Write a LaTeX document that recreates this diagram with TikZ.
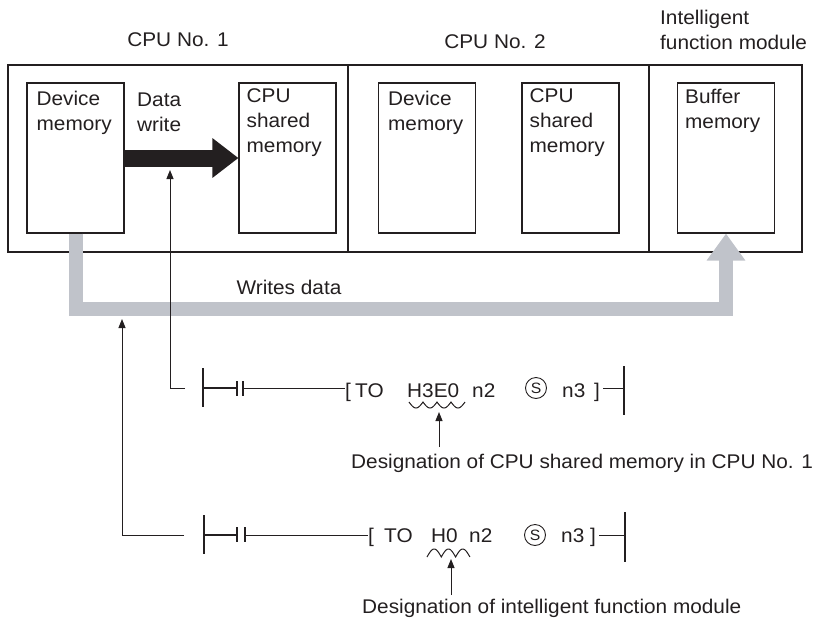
\documentclass[tikz,border=0pt]{standalone}
\usepackage{fontspec}
\setmainfont{Liberation Sans}[FakeStretch=1.05]
\usepackage{tikz}
\usetikzlibrary{arrows.meta}
\usetikzlibrary{positioning}
\definecolor{pipegray}{RGB}{192,195,202}
\definecolor{inkgray}{RGB}{35,31,32}

\begin{document}
\begin{tikzpicture}[
		x=1pt, y=-1pt,
		every node/.style={inner sep=0pt, text=inkgray, font=\fontsize{19.8}{25}\selectfont},
		panel/.style={draw=inkgray, line width=2.5pt, minimum height=187pt},
		membox/.style={draw=inkgray, line width=1.1pt, minimum width=97pt, minimum height=150pt},
		boxtext/.style={anchor=north west, align=left},
		bigarrow/.style={inkgray, line width=17pt, -{Triangle[length=26pt,width=38pt]}},
		pipe/.style={pipegray, line width=14pt, -{Triangle[length=27pt,width=37pt]}},
		thinarrow/.style={inkgray, line width=1pt, -{Triangle[length=9pt,width=7pt]}},
		rail/.style={inkgray, line width=2.5pt},
		wire/.style={inkgray, line width=1pt},
		sbox/.style={circle, draw=inkgray, line width=0.9pt, minimum size=21pt, font=\fontsize{15}{15}\selectfont}
		]
		
		\useasboundingbox (0,0) rectangle (820,619);
		
		% Rung heights
		\def\ra{388}
		\def\rb{535}
		
		% Modules
		\node[panel, minimum width=340pt] (cpu1) at (178,158.5) {};
		\node[panel, minimum width=301pt] (cpu2) at (498.5,158.5) {};
		\node[panel, minimum width=153pt] (ifm)  at (725.5,158.5) {};
		
		\node[anchor=base] (t1) at (178,46) {CPU No. 1};
		\node[anchor=base] (t2) at (495,48) {CPU No. 2};
		\node[boxtext]     (t3) at (660,10) {Intelligent\\function module};
		
		% Memories
		\node[membox] (dm1)  at (75.5,158) {};
		\node[membox] (csm1) at (287.5,158) {};
		\node[membox] (dm2)  at (427,158) {};
		\node[membox] (csm2) at (570.5,158) {};
		\node[membox] (buf)  at (726,158) {};
		
		\node[boxtext] at ([shift={(10,8)}]dm1.north west)  {Device\\memory};
		\node[boxtext] at ([shift={(8,6)}]csm1.north west)  {CPU\\shared\\memory};
		\node[boxtext] at ([shift={(10,8)}]dm2.north west)  {Device\\memory};
		\node[boxtext] at ([shift={(8,6)}]csm2.north west)  {CPU\\shared\\memory};
		\node[boxtext] at ([shift={(8,7)}]buf.north west)   {Buffer\\memory};
		\node[boxtext] (dw) at (137,93) {Data\\write};
		
		% Data transfers
		\draw[bigarrow] (dm1.east) -- (csm1.west);
		\draw[pipe] (dm1.south) -- ++(0,75) -| (buf.south);
		\node[anchor=base] (wd) at (289,294) {Writes data};
		
		% Ladder, first rung
		\coordinate (lr1) at (203,\ra);
		\coordinate (rr1) at (624,\ra);
		\draw[rail] (lr1) ++(0,-20) -- ++(0,39);
		\draw[rail] (lr1) -- ++(34,0);
		\draw[rail] (237,\ra-7) -- (237,\ra+8);
		\draw[rail] (243,\ra-7) -- (243,\ra+8);
		\draw[rail] (rr1) ++(0,-22) -- ++(0,49);
		
		\node[anchor=base west] (ob1)  at (345,\ra+9) {[};
		\node[anchor=base west] (to1)  at (355,\ra+9) {TO};
		\node[anchor=base west] (h3e0) at (407,\ra+9) {H3E0};
		\node[anchor=base west] (n2a)  at (472,\ra+9) {n2};
		\node[sbox]             (s1)   at (536,\ra) {S};
		\node[anchor=base west] (n3a)  at (562,\ra+9) {n3};
		\node[anchor=base west] (cb1)  at (594,\ra+9) {]};
		\draw[wire] (243,\ra) -- (ob1.west |- lr1);
		\draw[wire] ([xshift=3pt]cb1.east |- rr1) -- (rr1);
		\draw[wire] plot[domain=0:4, samples=81] ({409+14*\x}, {402+6*abs(sin(180*\x))});
		
		% Ladder, second rung
		\coordinate (lr2) at (204,\rb);
		\coordinate (rr2) at (625,\rb);
		\draw[rail] (lr2) ++(0,-20) -- ++(0,39);
		\draw[rail] (lr2) -- ++(33,0);
		\draw[rail] (237,\rb-8) -- (237,\rb+7);
		\draw[rail] (245,\rb-8) -- (245,\rb+7);
		\draw[rail] (rr2) ++(0,-23) -- ++(0,50);
		
		\node[anchor=base west] (ob2) at (368,\rb+7) {[};
		\node[anchor=base west] (to2) at (384,\rb+7) {TO};
		\node[anchor=base west] (h0)  at (431,\rb+7) {H0};
		\node[anchor=base west] (n2b) at (469,\rb+7) {n2};
		\node[sbox]             (s2)  at (535,\rb) {S};
		\node[anchor=base west] (n3b) at (561,\rb+7) {n3};
		\node[anchor=base west] (cb2) at (590,\rb+7) {]};
		\draw[wire] (245,\rb) -- (ob2.west |- lr2);
		\draw[wire] ([xshift=3pt]cb2.east |- rr2) -- (rr2);
		\draw[wire] plot[domain=0:3, samples=61] ({427+14.3*\x}, {557-8*abs(sin(180*\x))});
		
		% Designations
		\node[anchor=base west] (des1) at (351,468) {Designation of CPU shared memory in CPU No. 1};
		\node[anchor=base west] (des2) at (362,613) {Designation of intelligent function module};
		\coordinate (w1) at (439,412);
		\coordinate (w2) at (451,559);
		\draw[thinarrow] (w1 |- 0,447) -- (w1);
		\draw[thinarrow] (w2 |- 0,595) -- (w2);
		
		% Instructions to their targets
		\coordinate (r1in) at (185,\ra);
		\coordinate (r2in) at (184,\rb);
		\coordinate (dwtip) at (170,170);
		\coordinate (pipetip) at (122,319);
		\draw[thinarrow] (r1in) -| (dwtip);
		\draw[thinarrow] (r2in) -| (pipetip);
		
	\end{tikzpicture}
\end{document}
